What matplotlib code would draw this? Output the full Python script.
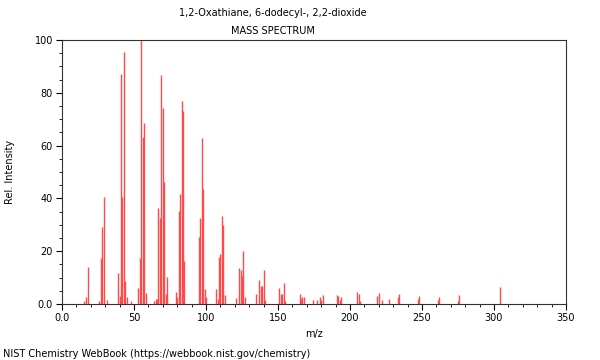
import matplotlib
matplotlib.use('Agg')
import matplotlib.pyplot as plt
from matplotlib.ticker import MultipleLocator

# picos (m/z, intensidade relativa)
mz = [15, 17, 18, 26, 27, 28, 29, 31, 39, 40, 41, 42, 43, 44, 45, 48,
      53, 54, 55, 56, 57, 58, 64, 65, 66, 67, 68, 69, 70, 71, 72, 73,
      79, 80, 81, 82, 83, 84, 85, 95, 96, 97, 98, 99, 100,
      107, 108, 109, 110, 111, 112, 113, 121, 123, 124, 125, 126, 127,
      135, 137, 138, 139, 140, 141, 151, 152, 153, 154, 155,
      165, 166, 167, 168, 174, 177, 179, 180, 181, 191, 192, 193, 194,
      205, 206, 207, 219, 220, 222, 227, 233, 234, 247, 248, 261, 262,
      275, 276, 304]
intensidade = [1.0, 2.8, 14.1, 1.0, 17.3, 29.0, 40.4, 1.5, 11.9, 3.0, 87.0, 40.5, 95.5, 8.8, 2.8, 1.0,
               5.9, 17.3, 100.0, 63.4, 68.7, 4.0, 1.0, 2.0, 2.0, 36.2, 32.7, 86.7, 74.1, 46.1, 3.7, 10.1,
               4.7, 2.8, 35.2, 41.7, 76.9, 73.1, 16.3, 25.5, 32.7, 63.0, 43.4, 5.8, 2.5,
               5.7, 1.8, 17.8, 18.9, 33.5, 29.9, 3.4, 2.4, 13.5, 12.9, 10.7, 20.0, 2.5,
               3.7, 9.1, 6.8, 6.8, 12.9, 1.5, 5.9, 3.8, 3.8, 7.8, 1.2,
               3.7, 2.0, 2.5, 2.5, 1.5, 1.5, 2.5, 1.5, 3.3, 3.3, 3.0, 1.5, 2.8,
               4.7, 3.6, 1.0, 3.2, 4.0, 1.6, 2.0, 2.6, 3.8, 2.0, 3.2, 1.5, 2.8,
               1.0, 3.4, 6.3]

titulo = '1,2-Oxathiane, 6-dodecyl-, 2,2-dioxide'
subtitulo = 'MASS SPECTRUM'
rodape = 'NIST Chemistry WebBook (https://webbook.nist.gov/chemistry)'

fig = plt.figure(figsize=(6, 3.6), dpi=100)
ax = fig.add_axes([0.1033, 0.1556, 0.84, 0.7333])

ax.vlines(mz, 0, intensidade, colors='#ff4a4a', linewidth=1.0)

ax.set_xlim(0, 350)
ax.set_ylim(0, 100)
ax.set_xticks(range(0, 351, 50))
ax.set_xticklabels(['0.0'] + [str(v) for v in range(50, 351, 50)])
ax.set_yticks(range(0, 101, 20))
ax.set_yticklabels(['0.0'] + [str(v) for v in range(20, 101, 20)])
ax.xaxis.set_minor_locator(MultipleLocator(10))
ax.yaxis.set_minor_locator(MultipleLocator(5))
ax.tick_params(axis='both', which='major', labelsize=7, length=4, width=0.8, pad=2.5)
ax.tick_params(axis='both', which='minor', length=2, width=0.6)
for s in ax.spines.values():
    s.set_color('#333333')

ax.set_xlabel('m/z', fontsize=7, labelpad=4)
ax.set_ylabel('Rel. Intensity', fontsize=7, labelpad=14)

fig.text(0.455, 0.963, titulo, ha='center', va='center', fontsize=7)
fig.text(0.455, 0.915, subtitulo, ha='center', va='center', fontsize=7)
fig.text(0.005, 0.018, rodape, ha='left', va='center', fontsize=7)

fig.savefig('out.png', dpi=100)
